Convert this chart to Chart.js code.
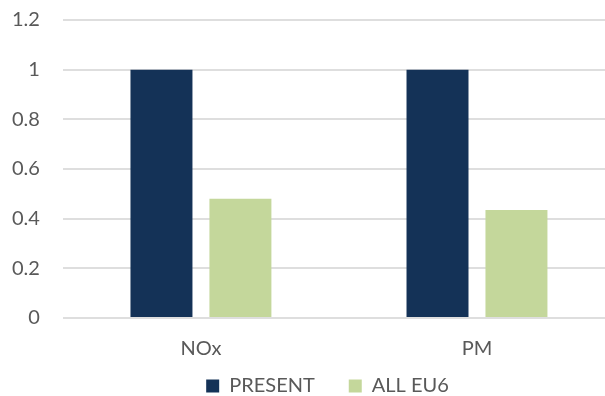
<!DOCTYPE html>
<html lang="en">
<head>
<meta charset="UTF-8">
<title>NOx and PM: present fleet vs all EU6</title>
<script src="https://cdn.jsdelivr.net/npm/chart.js"></script>
<style>
    body { margin: 0; overflow: hidden; background: #fff; }
    #chartBox { width: 615px; height: 396px; }
</style>
</head>
<body>
<div id="chartBox"><canvas id="emissionsChart" width="615" height="396"></canvas></div>
<script>
    const categories = ['NOx', 'PM'];
    const presentValues = [1, 1];
    const allEu6Values = [0.48, 0.435];
    const yTickLabels = ['0', '0.2', '0.4', '0.6', '0.8', '1', '1.2'];

    const textGrey = '#595959';
    const font = { family: 'Lato', size: 20 };

    // put the legend where the original has it: just under the x labels,
    // and a bit right of centre (the source chart was wider than this crop)
    const placeLegend = {
        id: 'placeLegend',
        afterLayout(chart) {
            const lg = chart.legend;
            lg.top = chart.chartArea.bottom + 24;
            lg.height = 54;
            lg.bottom = lg.top + lg.height;
            lg.left += 14;
            lg.right += 14;
        }
    };

    function drawChart() {
        const ctx = document.getElementById('emissionsChart').getContext('2d');
        new Chart(ctx, {
            type: 'bar',
            data: {
                labels: categories,
                datasets: [{
                    label: 'PRESENT',
                    data: presentValues,
                    backgroundColor: '#143257',
                    barPercentage: 0.785,
                    categoryPercentage: 0.572
                }, {
                    label: 'ALL EU6',
                    data: allEu6Values,
                    backgroundColor: '#c4d79b',
                    barPercentage: 0.785,
                    categoryPercentage: 0.572
                }]
            },
            options: {
                responsive: false,
                animation: false,
                layout: { padding: { left: 12, top: 20, right: 0, bottom: 0 } },
                scales: {
                    x: {
                        grid: { display: false, drawTicks: false },
                        border: { display: false },
                        ticks: { color: textGrey, font: font, padding: 19 },
                        afterFit(scale) { scale.height = 50; }
                    },
                    y: {
                        min: 0,
                        max: 1.2,
                        border: { display: false },
                        grid: { color: '#dedede', lineWidth: 2, tickLength: 23, tickColor: 'rgba(0,0,0,0)' },
                        ticks: {
                            stepSize: 0.2,
                            padding: 0,
                            color: textGrey,
                            font: font,
                            callback: (value, index) => yTickLabels[index]
                        }
                    }
                },
                plugins: {
                    tooltip: { enabled: false },
                    legend: {
                        position: 'bottom',
                        maxHeight: 28,
                        labels: {
                            boxWidth: 13,
                            boxHeight: 13,
                            padding: 34,
                            color: textGrey,
                            font: font
                        }
                    }
                }
            },
            plugins: [placeLegend]
        });
    }

    document.fonts.load('20px Lato').then(drawChart, drawChart);
</script>
</body>
</html>
